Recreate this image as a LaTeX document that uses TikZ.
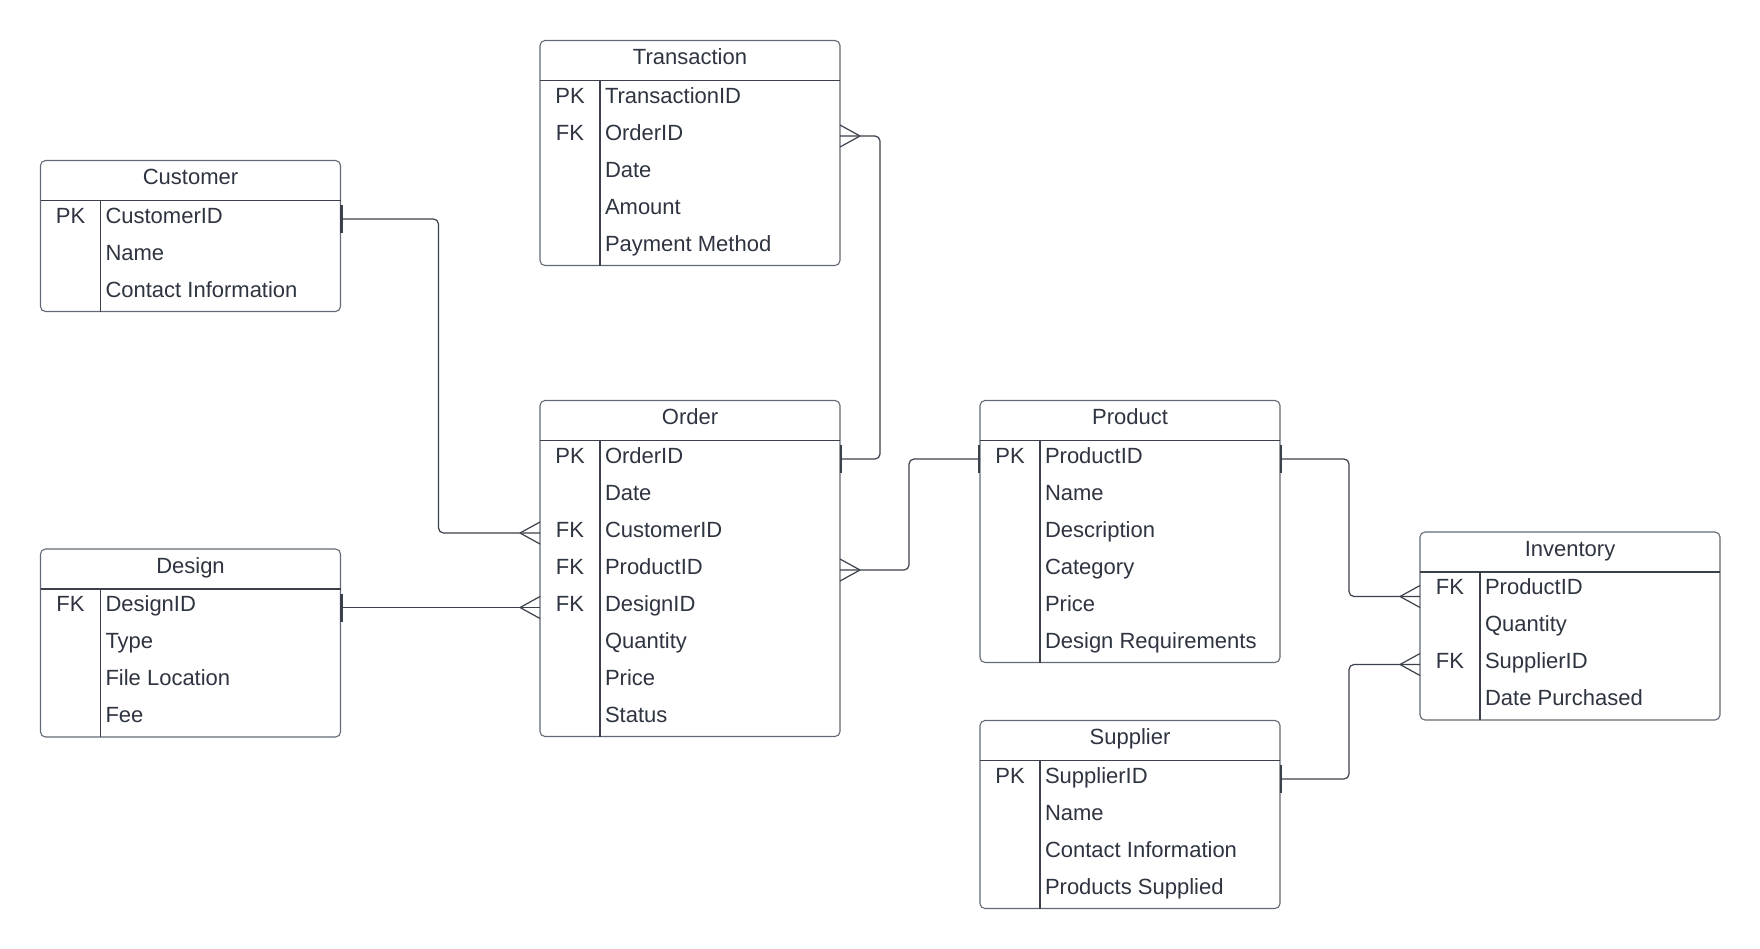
\documentclass[tikz,border=0pt]{standalone}
\usepackage{fontspec}
\setmainfont{Liberation Sans}
\definecolor{boxline}{HTML}{636A76}
\definecolor{ink}{HTML}{2E3440}
\definecolor{wire}{HTML}{3B414B}
\tikzset{
  tablebox/.style={draw=boxline, line width=1.1pt, rounded corners=5pt, fill=white,
    minimum width=300pt, inner sep=0pt, outer sep=0pt},
  rowbox/.style={minimum width=300pt, minimum height=37pt, inner sep=0pt, outer sep=0pt},
  inner/.style={draw=wire, line width=1.1pt},
  label/.style={text=ink, inner sep=0pt, font=\fontsize{22}{26}\selectfont},
  conn/.style={draw=wire, line width=1.2pt, rounded corners=5pt},
  onetick/.style={draw=wire, line width=2.2pt},
  crowL/.pic={\draw[draw=wire, line width=1.2pt] (-20,0) -- (0,-11) (-20,0) -- (0,11);},
  crowR/.pic={\draw[draw=wire, line width=1.2pt] (20,0) -- (0,-11) (20,0) -- (0,11);}
}
% #1 name, #2 left, #3 top, #4 title, #5 number of rows, #6 key/field list
\newcommand\ertable[6]{%
  \pgfmathsetmacro\tblh{40+37*#5}%
  \node[tablebox, minimum height=\tblh pt, anchor=north west] (#1) at (#2,#3) {};
  \node[label, anchor=base] (#1-title) at ([shift={(150,24)}]#1.north west) {#4};
  \draw[inner] ([yshift=-40pt]#1.north west) -- ([yshift=-40pt]#1.north east);
  \draw[inner] ([shift={(60pt,-40pt)}]#1.north west) -- ([xshift=60pt]#1.south west);
  \foreach \k/\f [count=\i] in {#6} {%
    \pgfmathsetmacro\rowy{40+37*(\i-1)}%
    \node[rowbox, anchor=north west] (#1-\i) at ([yshift=-\rowy pt]#1.north west) {};
    \node[label, anchor=base] (#1-\i-key) at ([shift={(30,22.5)}]#1-\i.north west) {\k};
    \node[label, anchor=base west] (#1-\i-field) at ([shift={(64.8,22.5)}]#1-\i.north west) {\f};
  }%
}
\begin{document}
\begin{tikzpicture}[x=1pt, y=-1pt]
\useasboundingbox (0,0) rectangle (1760,948);
\fill[white] (0,0) rectangle (1760,948);

% tables
\ertable{tr}{540}{40.5}{Transaction}{5}{PK/TransactionID, FK/OrderID, /Date, /Amount, /Payment Method}
\ertable{cust}{40.5}{160.5}{Customer}{3}{PK/CustomerID, /Name, /Contact Information}
\ertable{ord}{540}{400.5}{Order}{8}{PK/OrderID, /Date, FK/CustomerID, FK/ProductID, FK/DesignID, /Quantity, /Price, /Status}
\ertable{des}{40.5}{549}{Design}{4}{FK/DesignID, /Type, /File Location, /Fee}
\ertable{prod}{980}{400.5}{Product}{6}{PK/ProductID, /Name, /Description, /Category, /Price, /Design Requirements}
\ertable{inv}{1420}{532}{Inventory}{4}{FK/ProductID, /Quantity, FK/SupplierID, /Date Purchased}
\ertable{sup}{980}{720.5}{Supplier}{4}{PK/SupplierID, /Name, /Contact Information, /Products Supplied}

% attachment point on Inventory for the product link sits a little below the row centre
\coordinate (inv-prod) at ([yshift=-6pt]inv-1.west);

% relationships
\draw[conn] (cust-1.east) -- ++(98,0) |- (ord-3.west);
\draw[conn] (des-1.east) -- (des-1.east -| ord-5.west);
\draw[conn] (ord-1.east) -- ++(40,0) |- (tr-2.east);
\draw[conn] (ord-4.east) -- ++(69,0) |- (prod-1.west);
\draw[conn] (prod-1.east) -- ++(69,0) |- (inv-prod);
\draw[conn] (sup-1.east) -- ++(69,0) |- (inv-3.west);

% "one" ends
\draw[onetick] ([xshift=1pt]cust-1.east) ++(0,-14) -- ++(0,28);
\draw[onetick] ([xshift=1pt]des-1.east) ++(0,-14) -- ++(0,28);
\draw[onetick] ([xshift=1pt]ord-1.east) ++(0,-14) -- ++(0,28);
\draw[onetick] ([xshift=-1pt]prod-1.west) ++(0,-14) -- ++(0,28);
\draw[onetick] ([xshift=1pt]prod-1.east) ++(0,-14) -- ++(0,28);
\draw[onetick] ([xshift=1pt]sup-1.east) ++(0,-14) -- ++(0,28);

% "many" ends
\pic at (tr-2.east) {crowR};
\pic at (ord-3.west) {crowL};
\pic at (des-1.east -| ord-5.west) {crowL};
\pic at (ord-4.east) {crowR};
\pic at (inv-prod) {crowL};
\pic at (inv-3.west) {crowL};
\end{tikzpicture}
\end{document}
